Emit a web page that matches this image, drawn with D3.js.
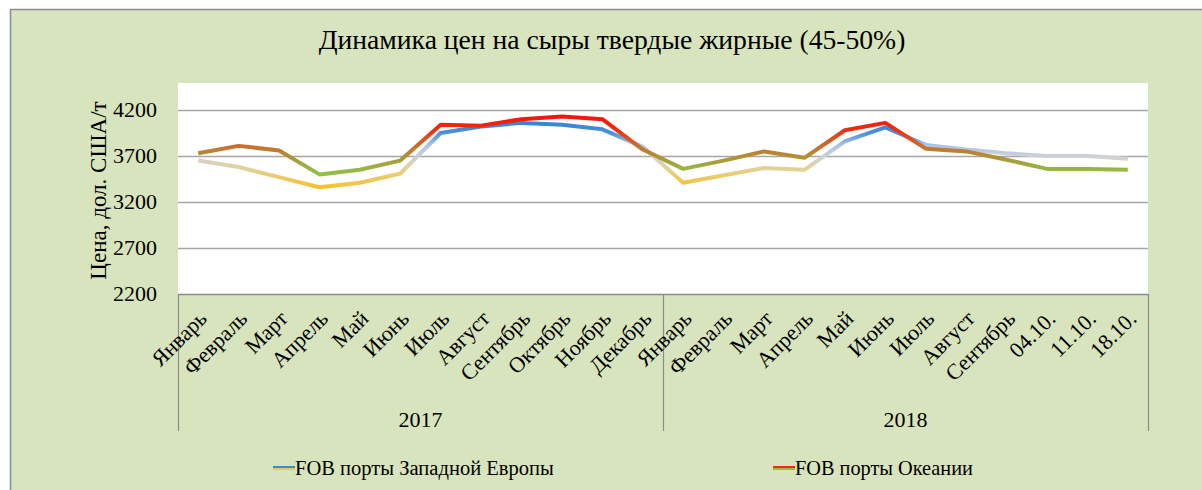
<!DOCTYPE html>
<html>
<head>
<meta charset="utf-8">
<script src="https://cdn.jsdelivr.net/npm/d3@7"></script>
<style>
  body { margin: 0; background: #fff; }
  svg text { font-family: 'Liberation Serif', 'Times New Roman', serif; fill: #000; }
</style>
</head>
<body>
<div id="chart"></div>
<script>
// months / weeks along the x axis
const labels2017 = ['Январь', 'Февраль', 'Март', 'Апрель', 'Май', 'Июнь', 'Июль', 'Август', 'Сентябрь', 'Октябрь', 'Ноябрь', 'Декабрь'];
const labels2018 = ['Январь', 'Февраль', 'Март', 'Апрель', 'Май', 'Июнь', 'Июль', 'Август', 'Сентябрь', '04.10.', '11.10.', '18.10.'];
const years = ['2017', '2018'];

// USD per tonne
const europe = [3650, 3580, 3470, 3360, 3410, 3510, 3950, 4020, 4060, 4040, 3990, 3800,
  3410, 3490, 3570, 3550, 3860, 4010, 3820, 3770, 3730, 3700, 3700, 3670];
const oceania = [3730, 3810, 3760, 3500, 3550, 3650, 4040, 4030, 4100, 4130, 4100, 3770,
  3560, 3650, 3750, 3680, 3980, 4060, 3780, 3750, 3660, 3560, 3560, 3550];

const yTicks = [2200, 2700, 3200, 3700, 4200];

const W = 1202;
const H = 490;
const plot = { left: 178, right: 1148, top: 83, bottom: 294 };

const svg = d3.select('#chart').append('svg').attr('width', W).attr('height', H);

// shrink/grow a text until it spans the wanted width
const fitWidth = (sel, width) => {
  const node = sel.node();
  const size = parseFloat(sel.style('font-size'));
  const w = node.getComputedTextLength();
  sel.style('font-size', `${(size * width) / w}px`);
};

// chart area
svg.append('rect')
  .attr('x', 10.5).attr('y', 9.5)
  .attr('width', W).attr('height', H)
  .attr('fill', '#d8e4bd')
  .attr('stroke', '#8c8c8c')
  .attr('stroke-width', 1.5);

svg.append('rect')
  .attr('x', plot.left).attr('y', plot.top)
  .attr('width', plot.right - plot.left).attr('height', plot.bottom - plot.top)
  .attr('fill', '#fff');

const title = svg.append('text')
  .text('Динамика цен на сыры твердые жирные (45-50%)')
  .attr('x', 612).attr('y', 49)
  .attr('text-anchor', 'middle')
  .style('font-size', '26px');
fitWidth(title, 587);

const cats = [...labels2017.map((d, i) => `a${i}`), ...labels2018.map((d, i) => `b${i}`)];
const catLabels = [...labels2017, ...labels2018];

const x = d3.scaleBand().domain(cats).range([plot.left, plot.right]);
const cx = (i) => x(cats[i]) + x.bandwidth() / 2;

const y = d3.scaleLinear().domain([2200, 4200]).range([plot.bottom, 110]);

// gridlines
svg.append('g')
  .selectAll('line')
  .data(yTicks)
  .join('line')
  .attr('x1', plot.left).attr('x2', plot.right)
  .attr('y1', (d) => Math.round(y(d)) + 0.5)
  .attr('y2', (d) => Math.round(y(d)) + 0.5)
  .attr('stroke', (d) => (d === 2200 ? '#8c8c8c' : '#a6a6a6'))
  .attr('stroke-width', 1.5);

svg.append('g')
  .selectAll('text')
  .data(yTicks)
  .join('text')
  .text((d) => d)
  .attr('x', 157)
  .attr('y', (d) => y(d) + 7)
  .attr('text-anchor', 'end')
  .style('font-size', '22px');

svg.append('text')
  .text('Цена, дол. США/т')
  .attr('transform', `translate(106, ${(plot.top + plot.bottom) / 2 + 2}) rotate(-90)`)
  .attr('text-anchor', 'middle')
  .style('font-size', '23px');

// x axis separators
const sepX = [plot.left, x('b0'), plot.right];
svg.append('g')
  .selectAll('line')
  .data(sepX)
  .join('line')
  .attr('x1', (d) => Math.round(d) + 0.5).attr('x2', (d) => Math.round(d) + 0.5)
  .attr('y1', plot.bottom).attr('y2', 431)
  .attr('stroke', '#8c8c8c')
  .attr('stroke-width', 1.2);

svg.append('g')
  .selectAll('text')
  .data(catLabels)
  .join('text')
  .text((d) => d)
  .attr('transform', (d, i) => `translate(${cx(i) + 10}, 320) rotate(-45)`)
  .attr('text-anchor', 'end')
  .style('font-size', '22px');

svg.append('g')
  .selectAll('text')
  .data(years)
  .join('text')
  .text((d) => d)
  .attr('x', (d, i) => (sepX[i] + sepX[i + 1]) / 2)
  .attr('y', 427)
  .attr('text-anchor', 'middle')
  .style('font-size', '22px');

// gradient strokes by value
const defs = svg.append('defs');
const makeGrad = (id, stops) => {
  const g = defs.append('linearGradient')
    .attr('id', id)
    .attr('gradientUnits', 'userSpaceOnUse')
    .attr('x1', 0).attr('x2', 0)
    .attr('y1', y(4150)).attr('y2', y(3350));
  stops.forEach(([v, c]) => {
    g.append('stop')
      .attr('offset', (4150 - v) / 800)
      .attr('stop-color', c);
  });
};
makeGrad('gEu', [[4150, '#2b7bd1'], [3950, '#4a90da'], [3820, '#a9c3e6'], [3680, '#d2d3d6'], [3540, '#e4d18c'], [3350, '#f7c02a']]);
makeGrad('gOc', [[4150, '#f3140c'], [4000, '#ee2a10'], [3800, '#c8712c'], [3660, '#a99b3a'], [3520, '#92bf45'], [3350, '#8cc240']]);

const line = d3.line().x((d, i) => cx(i)).y((d) => y(d));

svg.append('path')
  .datum(europe)
  .attr('d', line)
  .attr('fill', 'none')
  .attr('stroke', 'url(#gEu)')
  .attr('stroke-width', 4)
  .attr('stroke-linejoin', 'round');

svg.append('path')
  .datum(oceania)
  .attr('d', line)
  .attr('fill', 'none')
  .attr('stroke', 'url(#gOc)')
  .attr('stroke-width', 4)
  .attr('stroke-linejoin', 'round');

// legend
const legend = [
  { name: 'FOB порты Западной Европы', x: 273, w: 259, top: '#3a8ad6', bottom: '#f2c84a' },
  { name: 'FOB порты Океании', x: 773, w: 178, top: '#ee2a10', bottom: '#92bf45' },
];
const lg = svg.append('g').selectAll('g').data(legend).join('g');
lg.append('rect')
  .attr('x', (d) => d.x).attr('y', 466)
  .attr('width', 22).attr('height', 2)
  .attr('fill', (d) => d.top);
lg.append('rect')
  .attr('x', (d) => d.x).attr('y', 468)
  .attr('width', 22).attr('height', 2)
  .attr('fill', (d) => d.bottom);
lg.append('text')
  .text((d) => d.name)
  .attr('x', (d) => d.x + 22)
  .attr('y', 475)
  .style('font-size', '20px')
  .each(function (d) { fitWidth(d3.select(this), d.w); });
</script>
</body>
</html>
